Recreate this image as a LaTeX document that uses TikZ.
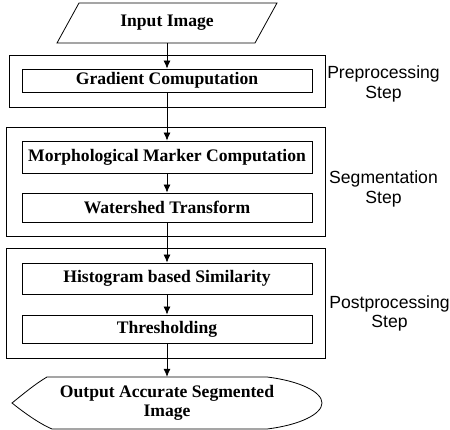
\documentclass[tikz,border=0pt]{standalone}
\usepackage{fontspec}
\setmainfont{Liberation Serif}
\newfontfamily\lsans{Liberation Sans}
\usetikzlibrary{arrows.meta}
\begin{document}
\begin{tikzpicture}[x=1pt,y=-1pt,
  every node/.style={font=\fontsize{17.6}{19.5}\selectfont\bfseries},
  stepbox/.style={draw,line width=0.8pt,minimum width=290,inner sep=0},
  groupbox/.style={draw,line width=0.8pt,inner sep=0},
  steplabel/.style={font=\lsans\fontsize{17.6}{19.5}\selectfont,align=center},
  conn/.style={line width=0.8pt,-{Latex[length=8pt,width=7pt]}}]
\useasboundingbox (0,0) rectangle (450,430);
% group boxes
\node[groupbox,minimum width=316,minimum height=52] (pre) at (167,81) {};
\node[groupbox,minimum width=319,minimum height=109] (seg) at (165.5,181.5) {};
\node[groupbox,minimum width=319,minimum height=110] (post) at (165.5,303) {};
% input
\draw[line width=0.8pt] (57,43) -- (79,3) -- (277,3) -- (255,43) -- cycle;
\node[minimum width=198,minimum height=40,inner sep=0] (in) at (167,23) {Input Image};
% steps
\node[stepbox,minimum height=23] (grad) at (167,80.5) {Gradient Comuputation};
\node[stepbox,minimum height=32] (morph) at (167,157) {Morphological Marker Computation};
\node[stepbox,minimum height=29] (water) at (167,207.5) {Watershed Transform};
\node[stepbox,minimum height=31] (hist) at (167,278.5) {Histogram based Similarity};
\node[stepbox,minimum height=28] (thr) at (167,329) {Thresholding};
% output
\draw[line width=0.8pt] (47,377) -- (267,377)
  .. controls (300,381) and (322,392) .. (322,403)
  .. controls (322,414) and (300,425) .. (267,429)
  -- (52,429)
  .. controls (38,423) and (22,411) .. (12,403)
  .. controls (22,395) and (35,384) .. (47,377) -- cycle;
\node[minimum width=310,minimum height=52,inner sep=0,align=center] (out) at (167,403) {Output Accurate Segmented\\Image};
% labels
\node[steplabel] (lpre) at (383.5,84) {Preprocessing\\Step};
\node[steplabel] (lseg) at (383.5,189) {Segmentation\\Step};
\node[steplabel] (lpost) at (389.5,313.5) {Postprocessing\\Step};
% connectors
\draw[conn] (in.south) -- (grad.north);
\draw[conn] (grad.south) -- (morph.north);
\draw[conn] (morph.south) -- (water.north);
\draw[conn] (water.south) -- (hist.north);
\draw[conn] (hist.south) -- (thr.north);
\draw[conn] (thr.south) -- (out.north);
\end{tikzpicture}
\end{document}
